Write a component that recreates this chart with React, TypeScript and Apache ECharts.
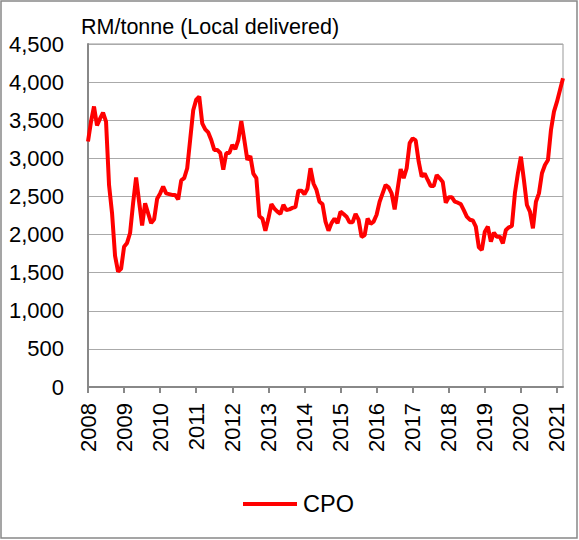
import React, { useEffect, useRef } from "react";
import * as echarts from "echarts";

const years: number[] = [2008, 2009, 2010, 2011, 2012, 2013, 2014, 2015, 2016, 2017, 2018, 2019, 2020, 2021];

const cpo2008 = [3220, 3480, 3680, 3430, 3520, 3600, 3480, 2650, 2280, 1720, 1515, 1550];
const cpo2009 = [1840, 1890, 2020, 2410, 2750, 2430, 2120, 2410, 2280, 2150, 2200, 2470];
const cpo2010 = [2540, 2630, 2540, 2530, 2520, 2520, 2460, 2710, 2740, 2870, 3250, 3630];
const cpo2011 = [3770, 3810, 3460, 3380, 3340, 3240, 3110, 3110, 3070, 2850, 3070, 3070];
const cpo2012 = [3175, 3120, 3240, 3490, 3240, 2980, 3030, 2800, 2740, 2240, 2210, 2050];
const cpo2013 = [2210, 2400, 2340, 2300, 2270, 2390, 2320, 2330, 2350, 2360, 2576, 2576];
const cpo2014 = [2530, 2600, 2870, 2670, 2585, 2430, 2400, 2170, 2050, 2150, 2210, 2150];
const cpo2015 = [2300, 2270, 2235, 2160, 2160, 2270, 2195, 1970, 1990, 2210, 2140, 2170];
const cpo2016 = [2260, 2430, 2540, 2650, 2620, 2540, 2330, 2600, 2860, 2740, 2870, 3200];
const cpo2017 = [3263, 3235, 2956, 2760, 2800, 2716, 2637, 2637, 2781, 2738, 2690, 2418];
const cpo2018 = [2490, 2490, 2431, 2418, 2400, 2320, 2235, 2195, 2185, 2104, 1833, 1797];
const cpo2019 = [2038, 2104, 1907, 2025, 1972, 1972, 1885, 2060, 2095, 2112, 2541, 2804];
const cpo2020 = [3022, 2716, 2388, 2300, 2082, 2431, 2540, 2804, 2913, 2978, 3372, 3612];
const cpo2021 = [3743, 3897, 4050];

const cpoValues: number[] = [
  ...cpo2008, ...cpo2009, ...cpo2010, ...cpo2011, ...cpo2012, ...cpo2013, ...cpo2014,
  ...cpo2015, ...cpo2016, ...cpo2017, ...cpo2018, ...cpo2019, ...cpo2020, ...cpo2021,
];

const months: string[] = [];
years.forEach((y) => {
  for (let m = 1; m <= 12; m++) {
    months.push(`${y}-${m < 10 ? "0" + m : m}`);
  }
});
const categories = months.slice(0, cpoValues.length);

const FONT = "'Liberation Sans', Arial, sans-serif";

export default function App() {
  const ref = useRef<HTMLDivElement>(null);
  useEffect(() => {
    if (!ref.current) return;
    const chart = echarts.init(ref.current, undefined, { renderer: "svg" });
    const isYearStart = (index: number) => index % 12 === 0;
    chart.setOption({
      animation: false,
      backgroundColor: "#ffffff",
      textStyle: { fontFamily: FONT },
      title: {
        text: "RM/tonne (Local delivered)",
        left: 76,
        top: 11,
        textStyle: { fontFamily: FONT, fontSize: 21.5, fontWeight: "normal", color: "#000" },
      },
      legend: {
        data: ["CPO"],
        left: 238,
        top: 487,
        icon: "rect",
        itemWidth: 54,
        itemHeight: 4,
        itemGap: 6,
        textStyle: { fontFamily: FONT, fontSize: 23.5, color: "#000", padding: [0, 0, 0, 1] },
      },
      grid: {
        left: 88,
        right: 16,
        top: 44,
        bottom: 153,
        show: true,
        borderColor: "#999",
        borderWidth: 1,
        containLabel: false,
      },
      xAxis: {
        type: "category",
        data: categories,
        boundaryGap: false,
        axisLine: { show: true, lineStyle: { color: "#888", width: 2 } },
        axisTick: { show: true, interval: isYearStart, length: 6, lineStyle: { color: "#888", width: 2 } },
        axisLabel: {
          interval: isYearStart,
          rotate: 90,
          margin: 16,
          fontFamily: FONT,
          fontSize: 22,
          color: "#000",
          formatter: (v: string) => v.slice(0, 4),
        },
        splitLine: { show: false },
      },
      yAxis: {
        type: "value",
        min: 0,
        max: 4500,
        interval: 500,
        axisLine: { show: true, lineStyle: { color: "#888", width: 2 } },
        axisTick: { show: false },
        axisLabel: {
          margin: 24,
          fontFamily: FONT,
          fontSize: 22,
          color: "#000",
          formatter: (v: number) => v.toLocaleString("en-US"),
        },
        splitLine: { show: true, lineStyle: { color: "#aaa", width: 1.2 } },
      },
      series: [
        {
          name: "CPO",
          type: "line",
          data: cpoValues,
          showSymbol: false,
          symbol: "none",
          color: "#ff0000",
          lineStyle: { color: "#ff0000", width: 4 },
        },
      ],
      graphic: [
        {
          type: "rect",
          shape: { x: 1, y: 1, width: 576, height: 537 },
          style: { fill: "none", stroke: "#888", lineWidth: 1.5 },
          silent: true,
        },
      ],
    });
    return () => chart.dispose();
  }, []);
  return (
    <div
      ref={ref}
      style={{ position: "absolute", left: 0, top: 0, width: 579, height: 540 }}
    />
  );
}
